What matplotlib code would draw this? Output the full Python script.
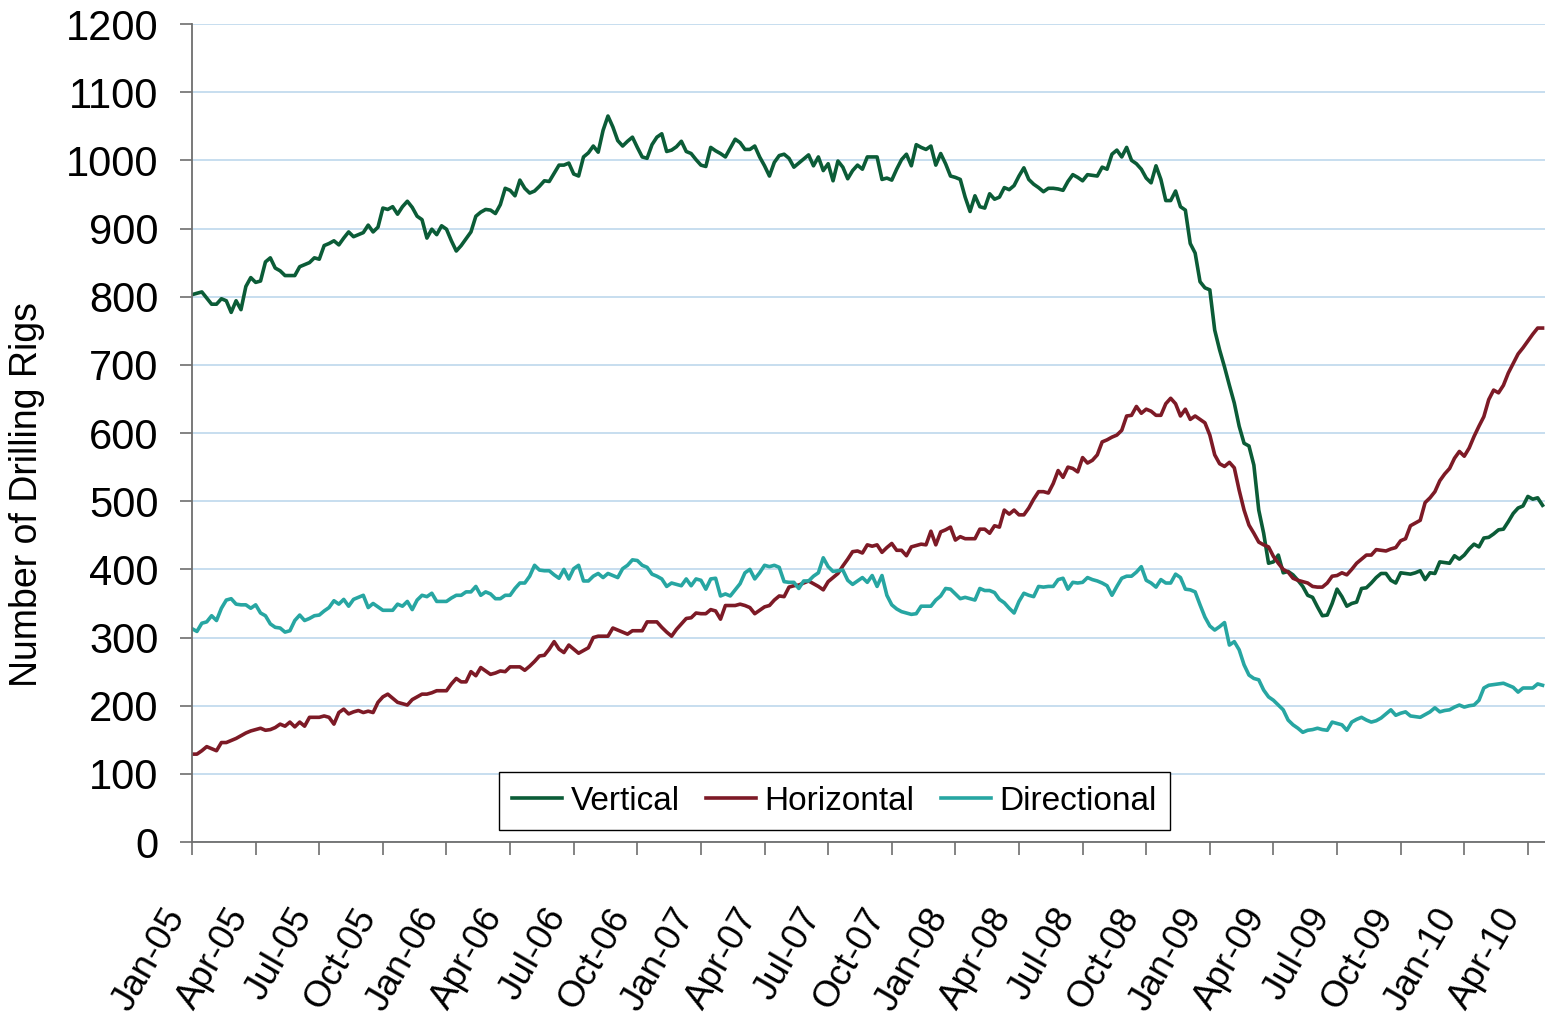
import numpy as np
import matplotlib
matplotlib.use('Agg')
import matplotlib.pyplot as plt

plt.rcParams['font.family'] = ['Liberation Sans', 'DejaVu Sans']

# weekly rig counts, Jan-05 .. mid 2010 (one row = one quarter, 13 weeks)
vertical = [
    803, 805, 807, 798, 789, 789, 797, 794, 777, 794, 781, 815, 828,
    821, 823, 851, 857, 842, 838, 831, 831, 831, 844, 847, 850, 857,
    855, 875, 878, 882, 876, 886, 895, 888, 891, 894, 905, 895, 902,
    930, 928, 932, 921, 932, 940, 931, 918, 913, 886, 899, 891, 904,
    899, 882, 867, 875, 885, 895, 918, 924, 928, 927, 922, 935, 959,
    956, 948, 971, 959, 952, 955, 962, 970, 969, 981, 993, 993, 996,
    980, 977, 1005, 1011, 1021, 1012, 1044, 1065, 1049, 1029, 1021, 1028, 1034,
    1019, 1005, 1003, 1023, 1034, 1039, 1013, 1015, 1020, 1028, 1013, 1010, 1001,
    993, 991, 1019, 1014, 1010, 1005, 1018, 1031, 1026, 1016, 1016, 1021, 1005,
    992, 977, 997, 1007, 1009, 1003, 990, 996, 1002, 1008, 992, 1005, 985,
    995, 970, 999, 990, 973, 985, 993, 987, 1005, 1005, 1005, 972, 974,
    971, 987, 1001, 1009, 992, 1023, 1019, 1016, 1021, 993, 1010, 995, 977,
    975, 972, 946, 925, 948, 932, 930, 951, 943, 946, 960, 957, 963,
    977, 989, 972, 965, 960, 954, 959, 959, 958, 956, 969, 979, 975,
    970, 979, 978, 977, 990, 987, 1009, 1015, 1005, 1019, 1000, 995, 987,
    974, 967, 992, 972, 941, 941, 955, 932, 927, 878, 864, 822, 813,
    810, 751, 722, 697, 670, 644, 610, 585, 581, 553, 487, 453, 409,
    411, 421, 395, 397, 392, 384, 375, 362, 359, 345, 332, 333, 350,
    371, 360, 346, 350, 352, 372, 373, 380, 388, 394, 394, 384, 380,
    395, 394, 393, 395, 398, 385, 395, 394, 411, 410, 409, 420, 415,
    421, 430, 437, 433, 446, 447, 452, 458, 459, 470, 482, 490, 493,
    507, 503, 505, 494,
]

horizontal = [
    129, 129, 134, 140, 137, 134, 146, 146, 149, 152, 156, 160, 163,
    165, 167, 164, 165, 168, 173, 170, 176, 169, 176, 170, 183, 183,
    183, 185, 183, 173, 190, 195, 188, 191, 193, 190, 192, 190, 205,
    213, 217, 211, 205, 203, 201, 209, 213, 217, 217, 219, 222, 222,
    222, 232, 240, 235, 235, 250, 244, 256, 251, 246, 248, 251, 250,
    257, 257, 257, 252, 258, 265, 273, 274, 283, 294, 283, 278, 289,
    283, 277, 281, 285, 300, 302, 302, 302, 314, 311, 308, 305, 310,
    310, 310, 323, 323, 323, 315, 308, 302, 312, 320, 328, 329, 336,
    335, 335, 341, 339, 327, 347, 347, 347, 349, 347, 344, 335, 340,
    345, 347, 355, 361, 360, 374, 376, 377, 380, 383, 379, 375, 370,
    382, 388, 394, 405, 415, 426, 427, 424, 436, 434, 436, 425, 432,
    438, 428, 428, 420, 433, 435, 437, 436, 456, 436, 455, 458, 462,
    443, 448, 445, 445, 445, 459, 459, 453, 464, 462, 487, 481, 487,
    480, 480, 490, 503, 514, 514, 512, 526, 545, 535, 550, 548, 543,
    564, 556, 560, 568, 587, 590, 594, 597, 604, 625, 626, 639, 629,
    635, 632, 626, 626, 643, 651, 643, 625, 635, 620, 625, 620, 615,
    597, 568, 555, 551, 557, 549, 516, 487, 465, 453, 440, 436, 433,
    419, 409, 400, 396, 387, 384, 382, 380, 375, 374, 374, 380, 390,
    391, 395, 392, 400, 409, 415, 421, 421, 429, 428, 427, 430, 432,
    442, 445, 464, 468, 472, 498, 505, 514, 530, 540, 548, 563, 573,
    566, 578, 595, 610, 624, 649, 663, 659, 670, 688, 702, 716, 725,
    735, 745, 754, 754,
]

directional = [
    313, 309, 321, 323, 332, 325, 343, 355, 357, 349, 348, 348, 343,
    348, 336, 332, 320, 315, 314, 308, 310, 325, 333, 325, 328, 332,
    333, 339, 344, 354, 349, 356, 346, 356, 359, 362, 344, 350, 345,
    340, 340, 340, 349, 346, 353, 341, 355, 362, 360, 365, 353, 353,
    353, 358, 362, 362, 367, 367, 375, 362, 367, 364, 357, 357, 362,
    362, 372, 380, 380, 390, 406, 399, 398, 398, 392, 387, 400, 386,
    401, 406, 383, 383, 390, 394, 388, 394, 391, 388, 401, 406, 414,
    413, 406, 403, 393, 390, 386, 375, 380, 378, 376, 386, 376, 386,
    384, 371, 386, 387, 361, 364, 361, 370, 379, 395, 400, 386, 395,
    406, 404, 406, 403, 382, 381, 381, 372, 383, 383, 390, 395, 417,
    404, 397, 398, 399, 384, 378, 383, 388, 381, 391, 375, 391, 362,
    348, 342, 338, 336, 334, 335, 346, 346, 346, 355, 361, 372, 371,
    364, 357, 359, 357, 355, 372, 369, 369, 366, 356, 351, 343, 336,
    353, 365, 362, 360, 375, 374, 375, 375, 385, 387, 371, 381, 380,
    381, 388, 385, 383, 380, 376, 362, 375, 387, 390, 390, 396, 404,
    384, 380, 374, 385, 380, 380, 393, 388, 371, 370, 367, 348, 330,
    317, 311, 316, 322, 289, 294, 282, 260, 245, 240, 238, 223, 213,
    208, 201, 194, 179, 172, 167, 161, 164, 165, 167, 165, 164, 176,
    174, 172, 164, 176, 180, 183, 179, 176, 178, 182, 188, 194, 186,
    189, 191, 185, 184, 183, 187, 191, 197, 191, 193, 194, 198, 201,
    198, 200, 201, 208, 226, 230, 231, 232, 233, 230, 227, 220, 226,
    226, 226, 232, 230,
]

tick_labels = ['Jan-05', 'Apr-05', 'Jul-05', 'Oct-05',
               'Jan-06', 'Apr-06', 'Jul-06', 'Oct-06',
               'Jan-07', 'Apr-07', 'Jul-07', 'Oct-07',
               'Jan-08', 'Apr-08', 'Jul-08', 'Oct-08',
               'Jan-09', 'Apr-09', 'Jul-09', 'Oct-09',
               'Jan-10', 'Apr-10']
weeks_per_tick = 13

weeks = np.arange(len(vertical))

fig = plt.figure(figsize=(15.45, 10.17), dpi=100)
ax = fig.add_axes([0.1243, 0.172, 0.8757, 0.8044])

ax.plot(weeks, vertical, color='#0b5c37', lw=2.6, label='Vertical')
ax.plot(weeks, horizontal, color='#7d1a26', lw=2.6, label='Horizontal')
ax.plot(weeks, directional, color='#27a6a2', lw=2.6, label='Directional')

ax.set_ylim(0, 1200)
ax.set_yticks(np.arange(0, 1201, 100))
ax.set_xlim(0, 276.5)
ax.set_xticks(np.arange(len(tick_labels)) * weeks_per_tick)
ax.set_xticklabels(tick_labels, rotation=60, ha='right', va='bottom',
                   rotation_mode='anchor')

ax.grid(axis='y', color='#c3dbee', lw=1.3)
ax.set_axisbelow(True)
for s in ['top', 'right']:
    ax.spines[s].set_visible(False)
for s in ['left', 'bottom']:
    ax.spines[s].set_color('#6e6e6e')
    ax.spines[s].set_linewidth(1.3)

ax.tick_params(axis='y', labelsize=30, length=9, width=1.2, color='#6e6e6e', pad=15)
ax.tick_params(axis='x', labelsize=26.5, length=9, width=1.2, color='#6e6e6e', pad=47)

ax.set_ylabel('Number of Drilling Rigs', fontsize=27)
ax.yaxis.set_label_coords(-0.109, 0.425)

leg = ax.legend(loc='lower center', bbox_to_anchor=(0.475, 0.0147), ncol=3,
                fontsize=24, frameon=True, fancybox=False, framealpha=1,
                edgecolor='black', handlelength=1.5, handletextpad=0.25,
                columnspacing=0.8, borderpad=0.4, borderaxespad=0)
leg.get_frame().set_linewidth(1.0)

fig.savefig('out.png', dpi=100)
